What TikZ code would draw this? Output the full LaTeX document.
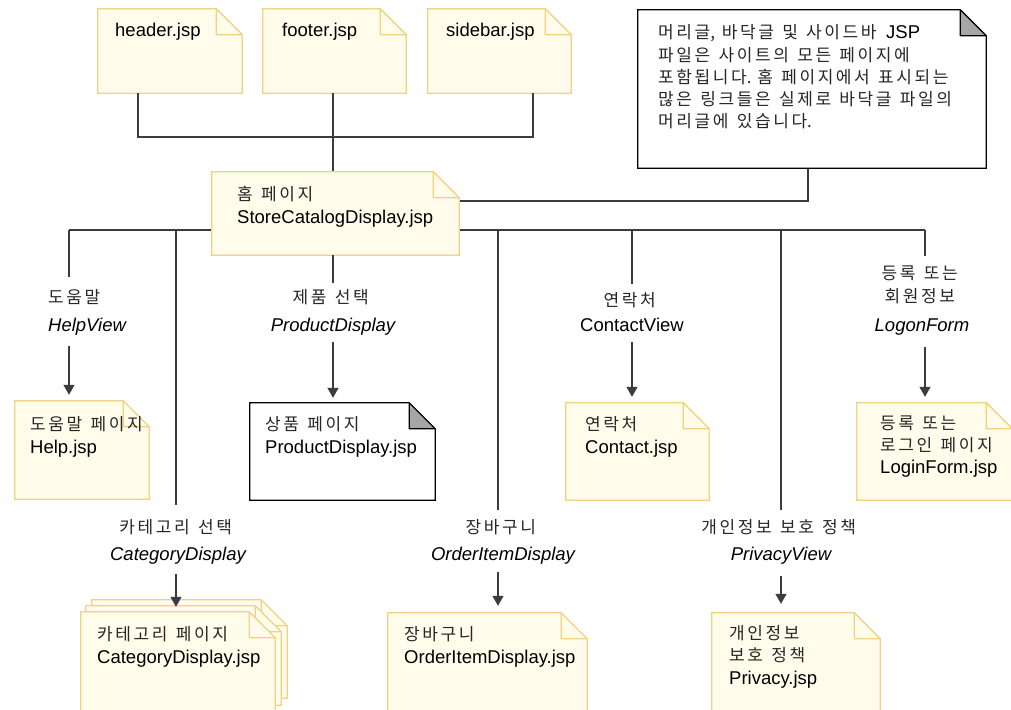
\documentclass[tikz,border=0pt]{standalone}
\usepackage{fontspec}
\setmainfont{Liberation Sans}
\newfontfamily\krfont{Noto Sans CJK KR}
\usetikzlibrary{arrows.meta,fit}

% open tracking between Hangul syllables
\XeTeXinterchartokenstate=1
\newXeTeXintercharclass\hangulclass
\newcount\hgcount
\hgcount="AC00
\loop
  \XeTeXcharclass\hgcount=\hangulclass
  \advance\hgcount by 1
\ifnum\hgcount<"D7A4 \repeat
\XeTeXinterchartoks\hangulclass\hangulclass={\kern2.6pt\relax}
\XeTeXinterchartoks\hangulclass 4095={\kern4.5pt\relax}

\definecolor{pagefill}{HTML}{FFFCEB}
\definecolor{pageedge}{HTML}{F1D282}
\definecolor{foldgray}{HTML}{A6A6A6}
\definecolor{wirecol}{HTML}{3C3C3C}

% Korean text, slightly smaller than the Latin text
\newcommand\ko{\krfont\fontsize{17}{23}\selectfont\color{black!85}}

\tikzset{
  wire/.style={draw=wirecol, line width=1.2pt},
  flow/.style={wire, -{Triangle[width=11pt,length=10pt]}},
  txt/.style={inner sep=0pt, anchor=north west, align=left,
    font=\fontsize{18.5}{23}\selectfont, execute at begin node=\strut},
  lbl/.style={inner sep=0pt, anchor=north, align=center,
    font=\fontsize{18.5}{23}\selectfont, execute at begin node=\strut,
    execute at end node=\strut},
}

% a page with a folded top-right corner:
% #1 name, #2 top-left, #3 bottom-right, #4 fill, #5 edge, #6 fold fill
\newcommand\docpage[6]{%
  \node[fit={#2 #3}, inner sep=0pt] (#1) {};
  \path[fill=#4, draw=#5, line width=1.2pt]
    (#1.north west) -- ([xshift=-26pt]#1.north east)
    -- ([yshift=-26pt]#1.north east) -- (#1.south east)
    -- (#1.south west) -- cycle;
  \path[fill=#6, draw=#5, line width=1.2pt, line join=bevel]
    ([xshift=-26pt]#1.north east) -- ([xshift=-26pt,yshift=-26pt]#1.north east)
    -- ([yshift=-26pt]#1.north east) -- cycle;
}
\newcommand\jsppage[3]{\docpage{#1}{#2}{#3}{pagefill}{pageedge}{pagefill}}

\begin{document}
\begin{tikzpicture}[x=1pt, y=-1pt]
\useasboundingbox (0,0) rectangle (1011,709);
\clip (0,0) rectangle (1011,709);

% junction points
\coordinate (hj) at (138,137);
\coordinate (tj) at (333,137);
\coordinate (sj) at (533,137);
\coordinate (nk) at (808,201);
\coordinate (hb) at (69,230);
\coordinate (cb) at (176,230);
\coordinate (ob) at (498,230);
\coordinate (kb) at (632,230);
\coordinate (pb) at (781,230);
\coordinate (lb) at (925,230);

% pages
\jsppage{header}{(98,9)}{(242,93)}
\jsppage{footer}{(263,9)}{(406,93)}
\jsppage{sidebar}{(428,9)}{(571,93)}

% wires behind the home page
\draw[wire] (hj |- header.south) -- (hj) -- (sj) -- (sj |- sidebar.south);
\draw[wire] (tj |- footer.south) -- (tj) -- (tj |- 0,172);
\draw[wire] (hb) -- (lb);
\draw[wire] (459,201) -- (nk) -- (808,168);

\jsppage{home}{(212,172)}{(459,255)}
\docpage{note}{(638,10)}{(986,168)}{white}{black}{foldgray}

\jsppage{help}{(15,401)}{(149,499)}
\docpage{product}{(250,403)}{(435,500)}{white}{black}{foldgray}
\jsppage{contact}{(566,403)}{(709,500)}
\jsppage{login}{(857,403)}{(1012,500)}

\jsppage{cat3}{(92,600)}{(287,698)}
\jsppage{cat2}{(86,606)}{(281,705)}
\jsppage{category}{(81,612)}{(275,716)}
\jsppage{order}{(388,613)}{(587,716)}
\jsppage{privacy}{(712,613)}{(880,716)}

% page texts
\node[txt] (headert) at (115,20.4) {header.jsp};
\node[txt] (footert) at (282,20.4) {footer.jsp};
\node[txt] (sidebart) at (446,20.4) {sidebar.jsp};
\node[txt] (homet) at (237,186) {{\ko 홈 페이지}\\StoreCatalogDisplay.jsp};
\node[txt, font=\fontsize{18.5}{22.3}\selectfont] (notet) at (658,24.5)
  {{\ko 머리글,\kern3pt\ 바닥글 및 사이드바} JSP\\
   {\ko 파일은 사이트의 모든 페이지에}\\
   {\ko 포함됩니다.\kern2pt\ 홈 페이지에서 표시되는}\\
   {\ko 많은 링크들은 실제로 바닥글 파일의}\\
   {\ko 머리글에 있습니다.}};
\node[txt] (helpt) at (30,416) {{\ko 도움말 페이지}\\Help.jsp};
\node[txt] (productt) at (265,416) {{\ko 상품 페이지}\\ProductDisplay.jsp};
\node[txt] (contactt) at (585,416) {{\ko 연락처}\\Contact.jsp};
\node[txt, font=\fontsize{18.5}{22}\selectfont] (logint) at (880,416)
  {{\ko 등록 또는}\\{\ko 로그인 페이지}\\LoginForm.jsp};
\node[txt] (categoryt) at (97,626) {{\ko 카테고리 페이지}\\CategoryDisplay.jsp};
\node[txt] (ordert) at (404,626) {{\ko 장바구니}\\OrderItemDisplay.jsp};
\node[txt, font=\fontsize{18.5}{22.5}\selectfont] (privacyt) at (729,625)
  {{\ko 개인정보}\\{\ko 보호 정책}\\Privacy.jsp};

% action labels
\node[lbl, anchor=north west, align=left] (helpl) at (48,289)
  {{\ko 도움말}\\[5pt]{\itshape HelpView}};
\node[lbl] (productl) at (333,289)
  {{\ko 제품 선택}\\[5pt]{\itshape ProductDisplay}};
\node[lbl] (contactl) at (632,292)
  {{\ko 연락처}\\[2pt]ContactView};
\node[lbl] (loginl) at (922,266)
  {{\ko 등록 또는}\\{\ko 회원정보}\\[6pt]{\itshape LogonForm}};
\node[lbl] (categoryl) at (178,519)
  {{\ko 카테고리 선택}\\[4pt]{\itshape CategoryDisplay}};
\node[lbl] (orderl) at (503,519)
  {{\ko 장바구니}\\[4pt]{\itshape OrderItemDisplay}};
\node[lbl] (privacyl) at (781,519)
  {{\ko 개인정보 보호 정책}\\[4pt]{\itshape PrivacyView}};

% drops from the bus to the labels
\draw[wire, shorten >=12pt] (hb) -- (hb |- helpl.north);
\draw[wire, shorten >=6pt] (tj |- home.south) -- (tj |- productl.north);
\draw[wire, shorten >=8pt] (kb) -- (kb |- contactl.north);
\draw[wire, shorten >=10pt] (lb) -- (lb |- loginl.north);
\draw[wire, shorten >=14pt] (cb) -- (cb |- categoryl.north);
\draw[wire, shorten >=9pt] (ob) -- (ob |- orderl.north);
\draw[wire, shorten >=9pt] (pb) -- (pb |- privacyl.north);

% arrows from the labels to the pages
\draw[flow, shorten <=7.6pt, shorten >=6pt] (hb |- helpl.south) -- (hb |- help.north);
\draw[flow, shorten <=3.6pt, shorten >=5pt] (tj |- productl.south) -- (tj |- product.north);
\draw[flow, shorten <=3.6pt, shorten >=6pt] (kb |- contactl.south) -- (kb |- contact.north);
\draw[flow, shorten <=7.6pt, shorten >=6pt] (lb |- loginl.south) -- (lb |- login.north);
\draw[flow, shorten <=6.6pt, shorten >=5pt] (cb |- categoryl.south) -- (cb |- category.north);
\draw[flow, shorten <=4.6pt, shorten >=7pt] (ob |- orderl.south) -- (ob |- order.north);
\draw[flow, shorten <=8.6pt, shorten >=9pt] (pb |- privacyl.south) -- (pb |- privacy.north);
\end{tikzpicture}
\end{document}
